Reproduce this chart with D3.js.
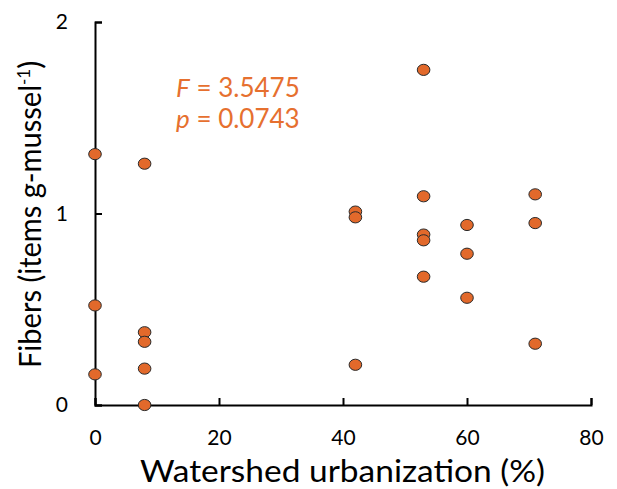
<!DOCTYPE html>
<html><head><meta charset="utf-8">
<script src="https://cdn.jsdelivr.net/npm/d3@7"></script>
<style>body{margin:0;background:#fff}</style>
</head><body>
<svg id="c" width="617" height="489"></svg>
<script>
const urbanization = [0,0,0, 8,8,8,8,8, 42,42,42, 53,53,53,53,53, 60,60,60, 71,71,71];
const fibers = [1.31,0.52,0.16, 1.26,0.38,0.33,0.19,0.00, 1.01,0.98,0.21, 1.75,1.09,0.89,0.86,0.67, 0.94,0.79,0.56, 1.10,0.95,0.32];
const xTicks = [0,20,40,60,80];
const yTicks = [0,1,2];
const statLines = [["F"," = 3.5475"],["p"," = 0.0743"]];

const svg = d3.select("#c");
const font = "Lato, 'Open Sans', sans-serif";
const x = d3.scaleLinear().domain([0,80]).range([95,591]);
const y = d3.scaleLinear().domain([0,2]).range([405,22]);

const gx = svg.append("g").attr("transform","translate(0,405)")
  .call(d3.axisBottom(x).tickValues(xTicks).tickFormat(d3.format("d")).tickSizeInner(-7).tickSizeOuter(-7).tickPadding(27));
const gy = svg.append("g").attr("transform","translate(95,0)")
  .call(d3.axisLeft(y).tickValues(yTicks).tickFormat(d3.format("d")).tickSizeInner(-7).tickSizeOuter(-7).tickPadding(27));
[gx,gy].forEach(g=>{
  g.select(".domain").attr("stroke","#000").attr("stroke-width",2);
  g.selectAll(".tick line").attr("stroke","#000").attr("stroke-width",2);
  g.selectAll(".tick text").attr("font-family",font).attr("font-size",21).attr("fill","#000");
});
gx.selectAll(".tick text").attr("y",40).attr("dy",null);

svg.append("g").selectAll("ellipse").data(urbanization).join("ellipse")
  .attr("cx",(d)=>x(d)).attr("cy",(d,i)=>y(fibers[i]))
  .attr("rx",6.3).attr("ry",5.6)
  .attr("fill","#E2692B").attr("stroke","#2a2a2a").attr("stroke-width",1);

svg.append("text").attr("x",140).attr("y",482)
  .attr("font-family",font).attr("font-size",30).attr("fill","#000")
  .attr("textLength",405).attr("lengthAdjust","spacingAndGlyphs")
  .text("Watershed urbanization (%)");

const yl = svg.append("text").attr("transform","translate(41,368) rotate(-90)")
  .attr("font-family",font).attr("font-size",30).attr("fill","#000");
yl.append("tspan").attr("textLength",283).attr("lengthAdjust","spacingAndGlyphs").text("Fibers (items g-mussel");
yl.append("tspan").attr("dy",-11).attr("font-size",17).text("-1");
yl.append("tspan").attr("dy",11).text(")");

const st = svg.append("g").attr("font-family",font).attr("font-size",26).attr("fill","#E6702F");
statLines.forEach((l,i)=>{
  const t = st.append("text").attr("x",176).attr("y",97+i*31);
  t.append("tspan").attr("font-style","italic").text(l[0]);
  t.append("tspan").text(l[1]);
});
</script>
</body></html>
